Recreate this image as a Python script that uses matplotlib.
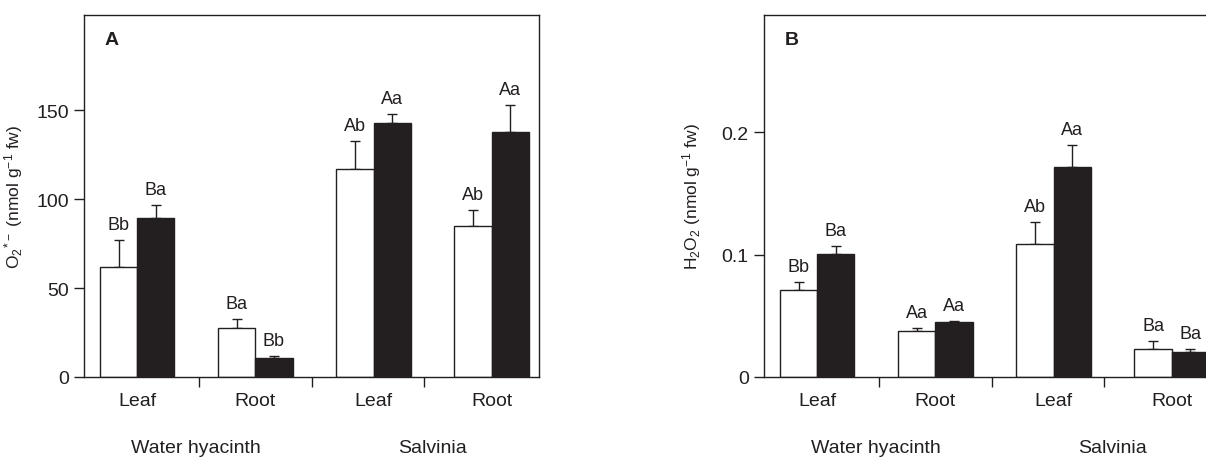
import matplotlib
matplotlib.use("Agg")
import matplotlib.pyplot as plt
import numpy as np

plt.rcParams['font.family'] = ['Liberation Sans', 'DejaVu Sans']
plt.rcParams['mathtext.default'] = 'regular'

# data
tissues = ['Leaf', 'Root', 'Leaf', 'Root']
species = ['Water hyacinth', 'Salvinia']

o2_white = [62, 27.6, 116.8, 85.1]
o2_white_err = [15, 5, 16, 9]
o2_black = [89.2, 10.7, 143, 137.6]
o2_black_err = [7.7, 0.9, 5.1, 15.6]
o2_white_lbl = ['Bb', 'Ba', 'Ab', 'Ab']
o2_black_lbl = ['Ba', 'Bb', 'Aa', 'Aa']

h2o2_white = [0.071, 0.0374, 0.1086, 0.0227]
h2o2_white_err = [0.007, 0.0026, 0.018, 0.0068]
h2o2_black = [0.1006, 0.0448, 0.1718, 0.0205]
h2o2_black_err = [0.0064, 0.001, 0.018, 0.0022]
h2o2_white_lbl = ['Bb', 'Aa', 'Ab', 'Ba']
h2o2_black_lbl = ['Ba', 'Aa', 'Aa', 'Ba']

INK = '#231f20'
W = 1206
H = 460


def panel(ax, white, werr, black, berr, wlbl, blbl, ymax, yticks, yticklabels,
          ylabel, ylabel_x, letter):
    x = np.arange(len(white))
    bw = 0.315
    xw = x - bw / 2
    xb = x + bw / 2
    ax.bar(xw, white, bw, color='white', edgecolor=INK, linewidth=1.0, zorder=2)
    ax.bar(xb, black, bw, color=INK, edgecolor=INK, linewidth=1.0, zorder=2)
    ax.errorbar(xw, white, yerr=[np.zeros(len(werr)), werr], fmt='none',
                ecolor=INK, elinewidth=1.0, capsize=3.5, capthick=1.0, zorder=1)
    ax.errorbar(xb, black, yerr=[np.zeros(len(berr)), berr], fmt='none',
                ecolor=INK, elinewidth=1.0, capsize=3.5, capthick=1.0, zorder=1)
    for xi, v, e, t in zip(xw, white, werr, wlbl):
        ax.annotate(t, (xi, v + e), xytext=(0, 5), textcoords='offset points',
                    ha='center', va='bottom', fontsize=13, color=INK)
    for xi, v, e, t in zip(xb, black, berr, blbl):
        ax.annotate(t, (xi, v + e), xytext=(0, 5), textcoords='offset points',
                    ha='center', va='bottom', fontsize=13, color=INK)

    ax.set_xlim(-0.45, 3.40)
    ax.set_ylim(0, ymax)
    ax.set_yticks(yticks)
    ax.set_yticklabels(yticklabels, fontsize=14, color=INK)
    # separator ticks between groups, category names as minor labels
    ax.set_xticks([0.52, 1.48, 2.43])
    ax.set_xticklabels([])
    ax.set_xticks(x, minor=True)
    ax.set_xticklabels(tissues, minor=True, fontsize=14, color=INK)
    ax.tick_params(axis='x', which='minor', length=0, pad=11)
    ax.tick_params(axis='x', which='major', length=7, width=1.0, color=INK, direction='out')
    ax.tick_params(axis='y', length=7, width=1.0, color=INK, direction='out', pad=4)
    for s in ax.spines.values():
        s.set_color(INK)
        s.set_linewidth(1.0)
    ax.set_ylabel(ylabel, fontsize=12.5, color=INK)
    ax.yaxis.set_label_coords(ylabel_x, 0.5)
    ax.text(0.045, 0.955, letter, transform=ax.transAxes, fontsize=14,
            fontweight='bold', ha='left', va='top', color=INK)
    for i, name in enumerate(species):
        ax.annotate(name, (2 * i + 0.5, 0), xycoords=('data', 'axes fraction'),
                    xytext=(0, -71), textcoords='offset pixels',
                    ha='center', va='center', fontsize=14, color=INK,
                    annotation_clip=False)


fig = plt.figure(figsize=(W / 100, H / 100), dpi=100)
ax_a = fig.add_axes([84 / W, (H - 378) / H, 455 / W, 362 / H])
ax_b = fig.add_axes([764 / W, (H - 378) / H, 455 / W, 362 / H])

panel(ax_a, o2_white, o2_white_err, o2_black, o2_black_err, o2_white_lbl, o2_black_lbl,
      203.6, [0, 50, 100, 150], ['0', '50', '100', '150'],
      r'O$_2$$^{*-}$ (nmol g$^{-1}$ fw)', -0.13, 'A')
panel(ax_b, h2o2_white, h2o2_white_err, h2o2_black, h2o2_black_err, h2o2_white_lbl, h2o2_black_lbl,
      0.296, [0, 0.1, 0.2], ['0', '0.1', '0.2'],
      r'H$_2$O$_2$ (nmol g$^{-1}$ fw)', -0.135, 'B')

fig.savefig('out.png', dpi=100)
